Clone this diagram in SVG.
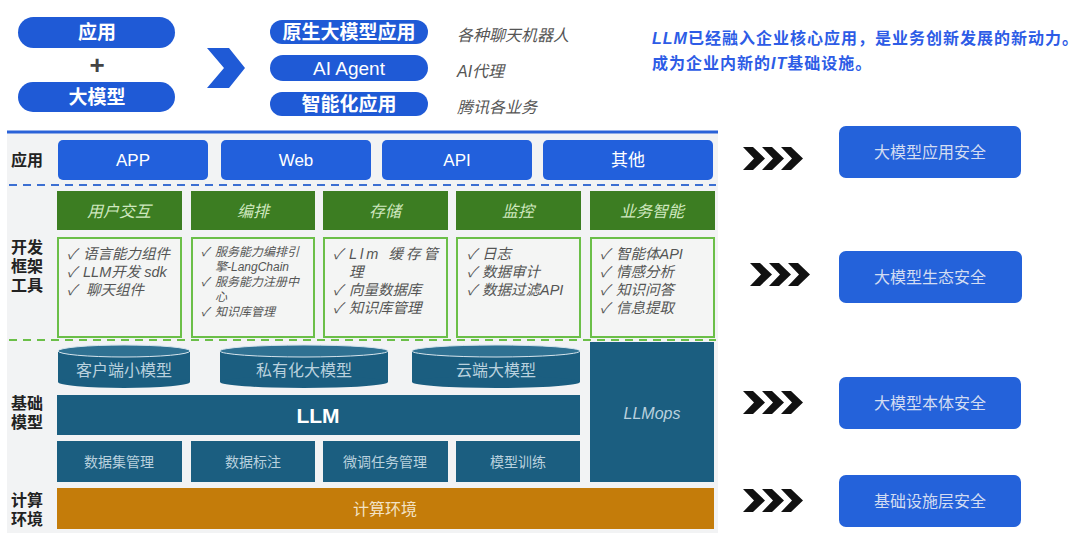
<svg xmlns="http://www.w3.org/2000/svg" width="1080" height="538" viewBox="0 0 1080 538">
<defs>
<style>
text{font-family:"Liberation Sans","Noto Sans CJK SC",sans-serif;}
.pill{fill:#1f5ad6;}
.pt{fill:#fff;font-size:19px;font-weight:bold;text-anchor:middle;dominant-baseline:central;}
.gray{fill:#555;font-size:16px;font-style:italic;}
.lbl{fill:#222;font-size:16px;font-weight:bold;}
.app{fill:#2260dc;}
.at{fill:#fff;font-size:17px;text-anchor:middle;dominant-baseline:central;}
.gh{fill:#3c7d22;}
.ght{fill:#cfe8bf;font-size:16px;font-style:italic;text-anchor:middle;dominant-baseline:central;}
.gb{fill:#f4f5f4;stroke:#6bbf48;stroke-width:2;}
.li{fill:#555;font-size:14.5px;font-style:italic;}
.ls{fill:#555;font-size:12px;font-style:italic;}
.teal{fill:#1b5e80;}
.tt{fill:#b9d1de;font-size:16px;text-anchor:middle;dominant-baseline:central;}
.ts{fill:#b9d1de;font-size:14px;text-anchor:middle;dominant-baseline:central;}
.sec{fill:#2462da;}
.st{fill:#d2dcf2;font-size:16px;text-anchor:middle;dominant-baseline:central;}
.hl{fill:#2d5ce6;font-size:16px;font-weight:bold;letter-spacing:1px;}
</style>
<polygon id="chev" points="0,0 10,0 22,11.5 10,23 0,23 11,11.5" fill="#111"/>
<g id="chev3"><use href="#chev" x="0"/><use href="#chev" x="19"/><use href="#chev" x="38"/></g>
</defs>
<rect width="1080" height="538" fill="#fff"/>

<!-- top section -->
<g id="top-app"><rect class="pill" x="18" y="17" width="157" height="31" rx="15.5"/><text class="pt" x="97" y="32">应用</text></g>
<text x="97" y="65" fill="#444" font-size="26" font-weight="bold" text-anchor="middle" dominant-baseline="central">+</text>
<g id="top-model"><rect class="pill" x="18" y="82" width="157" height="30" rx="15"/><text class="pt" x="97" y="97">大模型</text></g>
<polygon points="207,48 229,48 245,68 229,88 207,88 224,68" fill="#1f5ad6"/>
<g id="native"><rect class="pill" x="270" y="20" width="158" height="24" rx="12"/><text class="pt" x="349" y="32">原生大模型应用</text></g>
<g id="agent"><rect class="pill" x="270" y="55" width="158" height="26" rx="13"/><text class="pt" x="349" y="68" style="font-weight:normal">AI Agent</text></g>
<g id="smart"><rect class="pill" x="270" y="92" width="158" height="24" rx="12"/><text class="pt" x="349" y="104">智能化应用</text></g>
<text class="gray" x="457" y="41">各种聊天机器人</text>
<text class="gray" x="457" y="77">AI代理</text>
<text class="gray" x="457" y="113">腾讯各业务</text>
<text class="hl" x="652" y="44"><tspan font-style="italic">LLM</tspan>已经融入企业核心应用，是业务创新发展的新动力。<tspan x="652" y="69">成为企业内新的</tspan><tspan font-style="italic">IT</tspan>基础设施。</text>

<!-- main panel -->
<rect x="7" y="131" width="711" height="402" fill="#f2f3f4"/>
<line x1="7" y1="132" x2="718" y2="132" stroke="#2a62d8" stroke-width="3"/>
<line x1="9" y1="185" x2="716" y2="185" stroke="#3c6fd2" stroke-width="2" stroke-dasharray="8 6"/>
<line x1="9" y1="340" x2="716" y2="340" stroke="#6bbf48" stroke-width="2" stroke-dasharray="8 6"/>

<text class="lbl" x="11" y="166">应用</text>
<text class="lbl" x="11" y="253">开发<tspan x="11" y="272">框架</tspan><tspan x="11" y="291">工具</tspan></text>
<text class="lbl" x="11" y="409">基础<tspan x="11" y="428">模型</tspan></text>
<text class="lbl" x="11" y="506">计算<tspan x="11" y="525">环境</tspan></text>

<g id="app-app"><rect class="app" x="58" y="140" width="150" height="40" rx="5"/><text class="at" x="133" y="160">APP</text></g>
<g id="app-web"><rect class="app" x="221" y="140" width="150" height="40" rx="5"/><text class="at" x="296" y="160">Web</text></g>
<g id="app-api"><rect class="app" x="382" y="140" width="150" height="40" rx="5"/><text class="at" x="457" y="160">API</text></g>
<g id="app-other"><rect class="app" x="543" y="140" width="170" height="40" rx="5"/><text class="at" x="628" y="160">其他</text></g>

<g id="dev-ui"><rect class="gh" x="57" y="191" width="125" height="39"/><text class="ght" x="119" y="211">用户交互</text>
<rect class="gb" x="58" y="238" width="123" height="99"/>
<text class="li" x="67" y="259">✓<tspan x="83">语言能力组件</tspan><tspan x="67" y="277">✓</tspan><tspan x="83">LLM开发 sdk</tspan><tspan x="67" y="295">✓</tspan><tspan x="86">聊天组件</tspan></text></g>
<g id="dev-orch"><rect class="gh" x="191" y="191" width="124" height="39"/><text class="ght" x="253" y="211">编排</text>
<rect class="gb" x="192" y="238" width="122" height="99"/>
<text class="ls" x="201" y="256">✓<tspan x="215">服务能力编排引</tspan><tspan x="215" y="271">擎-LangChain</tspan><tspan x="201" y="286">✓</tspan><tspan x="215">服务能力注册中</tspan><tspan x="215" y="301">心</tspan><tspan x="201" y="316">✓</tspan><tspan x="215">知识库管理</tspan></text></g>
<g id="dev-store"><rect class="gh" x="323" y="191" width="125" height="39"/><text class="ght" x="385" y="211">存储</text>
<rect class="gb" x="324" y="238" width="123" height="99"/>
<text class="li" x="333" y="259">✓<tspan x="349" textLength="89" lengthAdjust="spacing">Llm 缓存管</tspan><tspan x="349" y="277">理</tspan><tspan x="333" y="295">✓</tspan><tspan x="349">向量数据库</tspan><tspan x="333" y="313">✓</tspan><tspan x="349">知识库管理</tspan></text></g>
<g id="dev-mon"><rect class="gh" x="456" y="191" width="125" height="39"/><text class="ght" x="518" y="211">监控</text>
<rect class="gb" x="457" y="238" width="123" height="99"/>
<text class="li" x="467" y="259">✓<tspan x="482">日志</tspan><tspan x="467" y="277">✓</tspan><tspan x="482">数据审计</tspan><tspan x="467" y="295">✓</tspan><tspan x="482">数据过滤API</tspan></text></g>
<g id="dev-bi"><rect class="gh" x="590" y="191" width="125" height="39"/><text class="ght" x="652" y="211">业务智能</text>
<rect class="gb" x="591" y="238" width="123" height="99"/>
<text class="li" x="600" y="259">✓<tspan x="616">智能体API</tspan><tspan x="600" y="277">✓</tspan><tspan x="616">情感分析</tspan><tspan x="600" y="295">✓</tspan><tspan x="616">知识问答</tspan><tspan x="600" y="313">✓</tspan><tspan x="616">信息提取</tspan></text></g>

<g id="cyl-client"><rect class="teal" x="58" y="351" width="132" height="31"/><ellipse class="teal" cx="124" cy="382" rx="66" ry="6"/><ellipse cx="124" cy="351" rx="66" ry="6" fill="#2f7192" stroke="#d6e4ec" stroke-width="1"/><text class="tt" x="124" y="370">客户端小模型</text></g>
<g id="cyl-private"><rect class="teal" x="220" y="351" width="168" height="31"/><ellipse class="teal" cx="304" cy="382" rx="84" ry="6"/><ellipse cx="304" cy="351" rx="84" ry="6" fill="#2f7192" stroke="#d6e4ec" stroke-width="1"/><text class="tt" x="304" y="370">私有化大模型</text></g>
<g id="cyl-cloud"><rect class="teal" x="412" y="351" width="168" height="31"/><ellipse class="teal" cx="496" cy="382" rx="84" ry="6"/><ellipse cx="496" cy="351" rx="84" ry="6" fill="#2f7192" stroke="#d6e4ec" stroke-width="1"/><text class="tt" x="496" y="370">云端大模型</text></g>

<g id="llm"><rect class="teal" x="57" y="395" width="523" height="40"/><text x="318" y="415" fill="#fff" font-size="21" font-weight="bold" text-anchor="middle" dominant-baseline="central">LLM</text></g>
<g id="llmops"><rect class="teal" x="590" y="342" width="124" height="140"/><text class="ts" x="652" y="413" style="font-style:italic;font-size:16px">LLMops</text></g>
<g id="ds"><rect class="teal" x="57" y="441" width="125" height="41"/><text class="ts" x="119" y="462">数据集管理</text></g>
<g id="label"><rect class="teal" x="191" y="441" width="124" height="41"/><text class="ts" x="253" y="462">数据标注</text></g>
<g id="ft"><rect class="teal" x="323" y="441" width="125" height="41"/><text class="ts" x="385" y="462">微调任务管理</text></g>
<g id="train"><rect class="teal" x="456" y="441" width="124" height="41"/><text class="ts" x="518" y="462">模型训练</text></g>
<g id="compute"><rect x="57" y="488" width="657" height="41" fill="#c47c0a"/><text x="385" y="509" fill="#f3e3c6" font-size="16" text-anchor="middle" dominant-baseline="central">计算环境</text></g>

<!-- connectors -->
<g id="connectors">
<use href="#chev3" x="743" y="147"/>
<use href="#chev3" x="750" y="263"/>
<use href="#chev3" x="743" y="391"/>
<use href="#chev3" x="743" y="489"/>
</g>

<g id="sec-app"><rect class="sec" x="839" y="126" width="182" height="52" rx="7"/><text class="st" x="930" y="152">大模型应用安全</text></g>
<g id="sec-eco"><rect class="sec" x="839" y="251" width="183" height="52" rx="7"/><text class="st" x="930" y="277">大模型生态安全</text></g>
<g id="sec-body"><rect class="sec" x="839" y="377" width="182" height="52" rx="7"/><text class="st" x="930" y="403">大模型本体安全</text></g>
<g id="sec-infra"><rect class="sec" x="839" y="475" width="182" height="52" rx="7"/><text class="st" x="930" y="501">基础设施层安全</text></g>
</svg>
